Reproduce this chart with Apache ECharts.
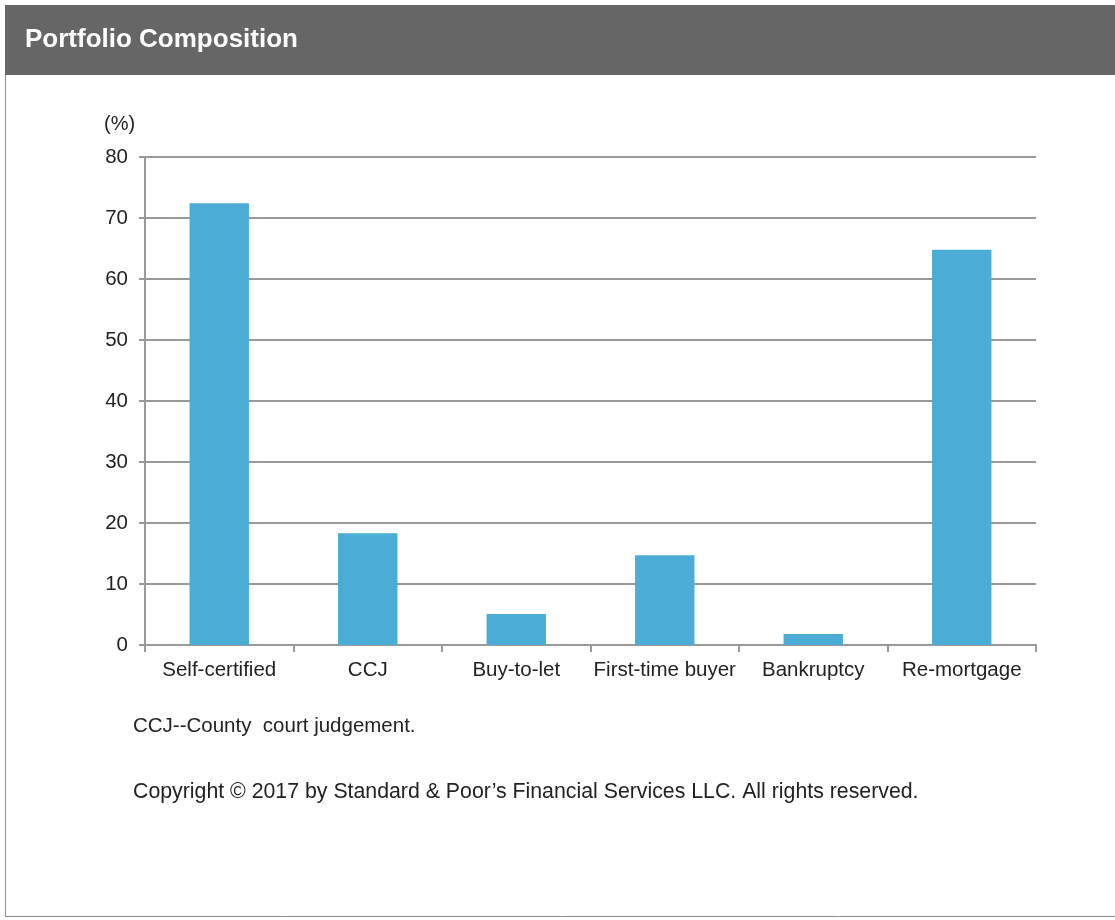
<!DOCTYPE html>
<html>
<head>
<meta charset="utf-8">
<script src="https://cdn.jsdelivr.net/npm/echarts@6/dist/echarts.min.js"></script>
<style>
  html, body { margin: 0; padding: 0; background: #ffffff; }
  #chart { width: 1115px; height: 920px; }
</style>
</head>
<body>
<div id="chart"></div>
<script>
// Portfolio composition by loan characteristic (%)
const categories = ['Self-certified', 'CCJ', 'Buy-to-let', 'First-time buyer', 'Bankruptcy', 'Re-mortgage'];
const shares = [72.4, 18.3, 5.1, 14.7, 1.8, 64.8];
const yTicks = { min: 0, max: 80, interval: 10 };

const font = '"Liberation Sans", Arial, sans-serif';
const chart = echarts.init(document.getElementById('chart'), null, { renderer: 'canvas' });

chart.setOption({
  animation: false,
  backgroundColor: '#ffffff',
  graphic: [
    // panel frame
    { type: 'rect', shape: { x: 5.5, y: 5.5, width: 1120, height: 911 },
      style: { fill: '#ffffff', stroke: '#8c8c8c', lineWidth: 1 }, z: -10 },
    // header band
    { type: 'rect', shape: { x: 5, y: 5, width: 1115, height: 70 },
      style: { fill: '#666666' }, z: -5 },
    { type: 'text', left: 25, top: 27,
      style: { text: 'Portfolio Composition', fill: '#ffffff', font: 'bold 26px ' + font } },
    { type: 'text', left: 104, top: 114,
      style: { text: '(%)', fill: '#222222', font: '20px ' + font } },
    { type: 'text', left: 133, top: 716,
      style: { text: 'CCJ--County  court judgement.', fill: '#222222', font: '20.5px ' + font } },
    { type: 'text', left: 133, top: 782,
      style: { text: 'Copyright \u00A9 2017 by Standard & Poor\u2019s Financial Services LLC. All rights reserved.', fill: '#222222', font: '21.3px ' + font } }
  ],
  grid: { left: 145, right: 79, top: 157, bottom: 275, containLabel: false },
  xAxis: {
    type: 'category',
    data: categories,
    axisLine: { show: true, lineStyle: { color: '#999999', width: 2 } },
    axisTick: { show: true, alignWithLabel: false, length: 7, lineStyle: { color: '#999999', width: 2 } },
    axisLabel: { color: '#222222', fontSize: 20.5, fontFamily: font, margin: 15, interval: 0 }
  },
  yAxis: {
    type: 'value',
    min: yTicks.min, max: yTicks.max, interval: yTicks.interval,
    axisLine: { show: true, lineStyle: { color: '#999999', width: 2 } },
    axisTick: { show: true, length: 6, lineStyle: { color: '#999999', width: 2 } },
    axisLabel: { color: '#222222', fontSize: 20.5, fontFamily: font, margin: 17 },
    splitLine: { show: true, lineStyle: { color: '#999999', width: 2 } }
  },
  series: [{
    type: 'bar',
    data: shares,
    barCategoryGap: '60%',
    itemStyle: { color: '#4badd6' }
  }]
});
</script>
</body>
</html>
